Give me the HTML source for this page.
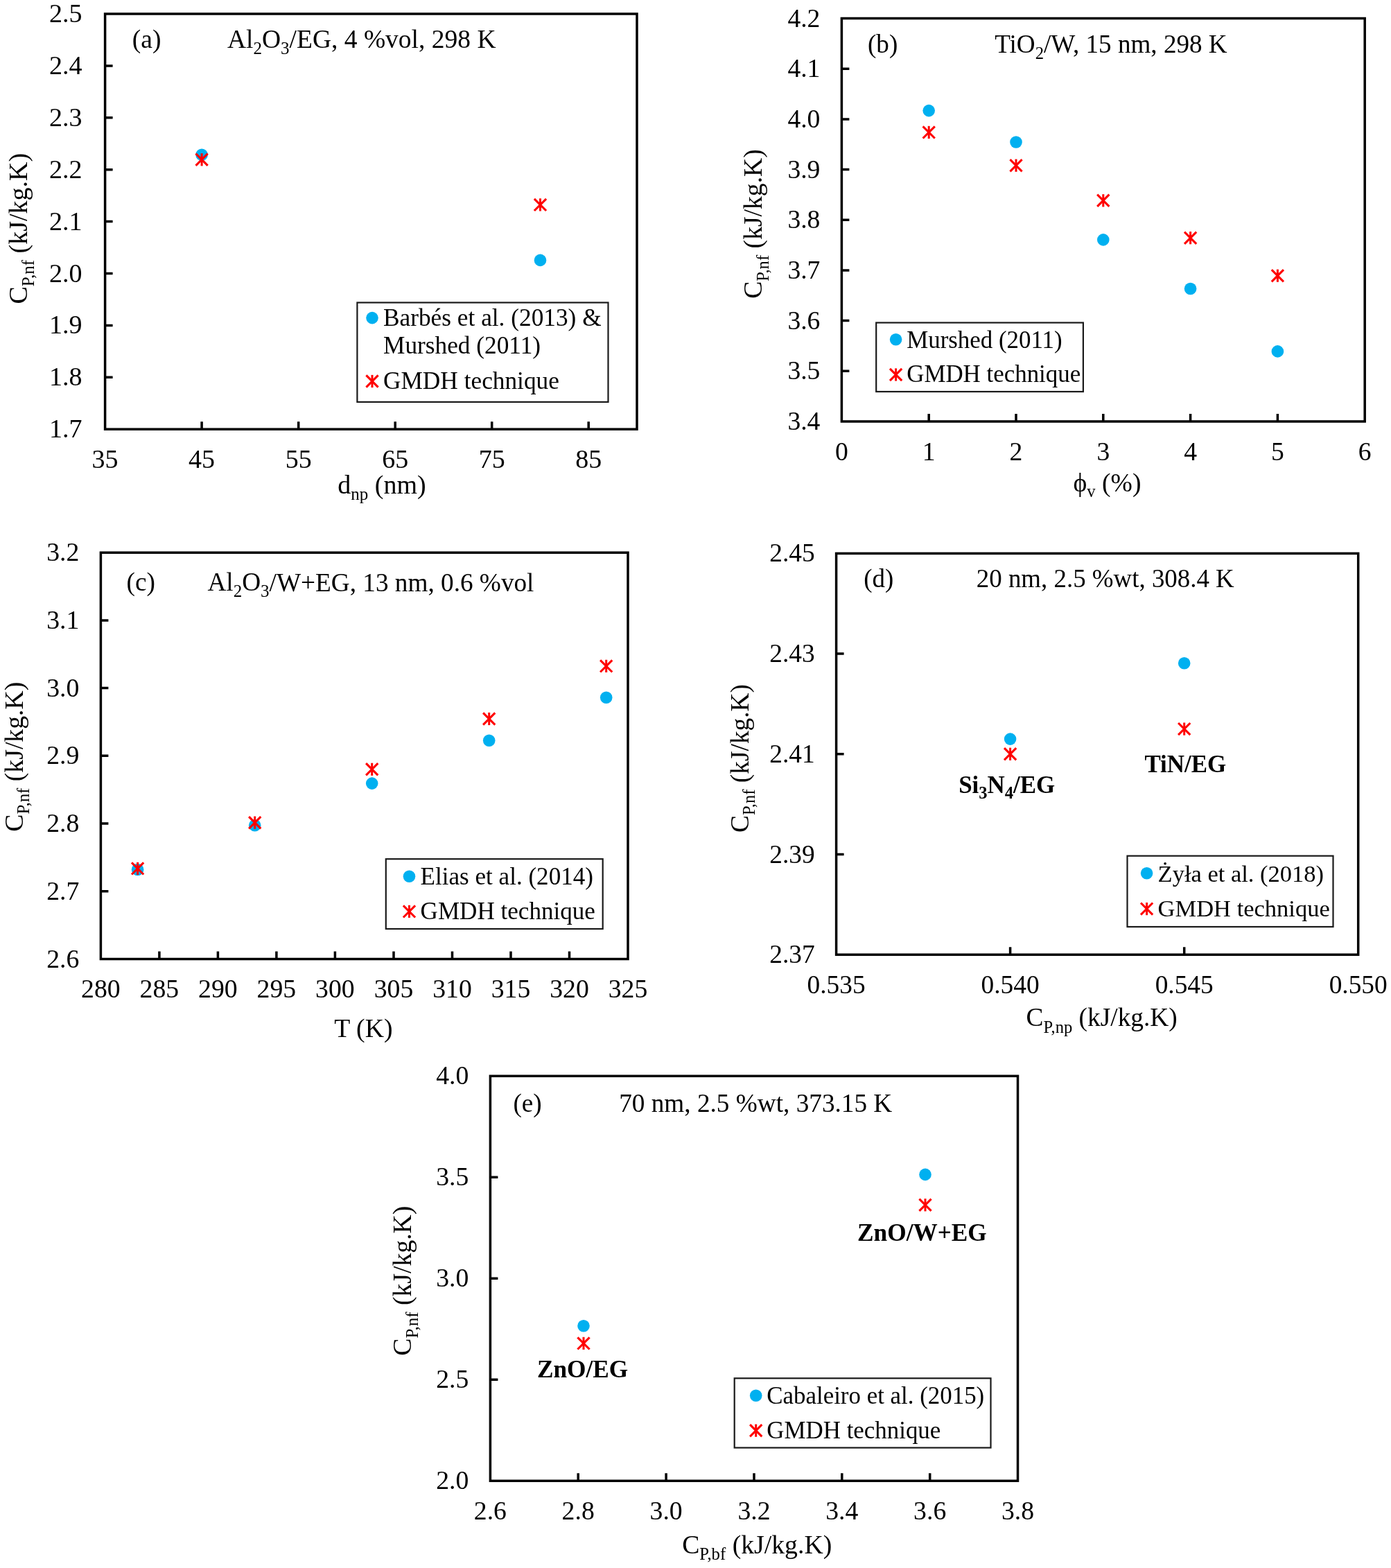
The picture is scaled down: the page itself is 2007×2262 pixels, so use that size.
<!DOCTYPE html>
<html><head><meta charset="utf-8"><title>Figure</title>
<style>html,body{margin:0;padding:0;background:#fff;overflow:hidden;}svg{display:block;}</style>
</head><body>
<svg width="2007" height="2262" viewBox="0 0 2007 2262" font-family="'Liberation Serif','Times New Roman',serif" fill="#000">
<rect width="2007" height="2262" fill="#fff"/>
<path d="M291.1 619.2V608.2M430.7 619.2V608.2M570.2 619.2V608.2M709.7 619.2V608.2M849.2 619.2V608.2M151.6 544.3H162.6M151.6 469.4H162.6M151.6 394.5H162.6M151.6 319.6H162.6M151.6 244.7H162.6M151.6 169.8H162.6M151.6 94.9H162.6" stroke="#000" stroke-width="3.5" fill="none"/>
<rect x="151.6" y="20.0" width="767.4" height="599.2" fill="none" stroke="#000" stroke-width="3.5"/>
<g font-size="38.00">
<text x="151.6" y="674.7" text-anchor="middle">35</text>
<text x="291.1" y="674.7" text-anchor="middle">45</text>
<text x="430.7" y="674.7" text-anchor="middle">55</text>
<text x="570.2" y="674.7" text-anchor="middle">65</text>
<text x="709.7" y="674.7" text-anchor="middle">75</text>
<text x="849.2" y="674.7" text-anchor="middle">85</text>
<text x="118.4" y="631.2" text-anchor="end">1.7</text>
<text x="118.4" y="556.3" text-anchor="end">1.8</text>
<text x="118.4" y="481.4" text-anchor="end">1.9</text>
<text x="118.4" y="406.5" text-anchor="end">2.0</text>
<text x="118.4" y="331.6" text-anchor="end">2.1</text>
<text x="118.4" y="256.7" text-anchor="end">2.2</text>
<text x="118.4" y="181.8" text-anchor="end">2.3</text>
<text x="118.4" y="106.9" text-anchor="end">2.4</text>
<text x="118.4" y="32.0" text-anchor="end">2.5</text>
</g>
<text transform="translate(39.2,329.7) rotate(-90)" text-anchor="middle" font-size="38.00">C<tspan font-size="25.00" dy="9.5">P,nf</tspan><tspan dy="-9.5"> (kJ/kg.K)</tspan></text>
<text x="551.0" y="711.7" font-size="38.00" text-anchor="middle">d<tspan font-size="25.00" dy="9.0">np</tspan><tspan dy="-9.0"> (nm)</tspan></text>
<text x="190.8" y="69.4" font-size="37.50" text-anchor="start">(a)</text>
<text x="328.0" y="69.4" font-size="37.50" text-anchor="start">Al<tspan font-size="25.00" dy="9.0">2</tspan><tspan dy="-9.0">O</tspan><tspan font-size="25.00" dy="9.0">3</tspan><tspan dy="-9.0">/EG, 4 %vol, 298 K</tspan></text>
<rect x="515.4" y="436.5" width="362.1" height="143.4" fill="#fff" stroke="#1a1a1a" stroke-width="2.2"/>
<circle cx="537.0" cy="458.6" r="8.8" fill="#00B0F0"/>
<text x="553.0" y="470.3" font-size="35.30">Barbés et al. (2013) &amp;</text>
<text x="553.0" y="510.4" font-size="35.30">Murshed (2011)</text>
<path d="M528.4 541.4L545.6 558.6M545.6 541.4L528.4 558.6" stroke="#FF0000" stroke-width="3.1" fill="none"/>
<path d="M537.0 540.9V559.1" stroke="#FF0000" stroke-width="3.0" fill="none"/>
<text x="553.0" y="560.7" font-size="35.30">GMDH technique</text>
<circle cx="291.1" cy="223.3" r="8.8" fill="#00B0F0"/>
<path d="M282.5 221.7L299.7 238.9M299.7 221.7L282.5 238.9" stroke="#FF0000" stroke-width="3.1" fill="none"/>
<path d="M291.1 221.2V239.4" stroke="#FF0000" stroke-width="3.0" fill="none"/>
<circle cx="779.5" cy="375.4" r="8.8" fill="#00B0F0"/>
<path d="M770.9 286.8L788.1 304.0M788.1 286.8L770.9 304.0" stroke="#FF0000" stroke-width="3.1" fill="none"/>
<path d="M779.5 286.3V304.5" stroke="#FF0000" stroke-width="3.0" fill="none"/>
<path d="M1340.2 608.0V597.0M1466.0 608.0V597.0M1591.8 608.0V597.0M1717.6 608.0V597.0M1843.4 608.0V597.0M1214.4 535.3H1225.4M1214.4 462.6H1225.4M1214.4 389.9H1225.4M1214.4 317.3H1225.4M1214.4 244.6H1225.4M1214.4 171.9H1225.4M1214.4 99.2H1225.4" stroke="#000" stroke-width="3.5" fill="none"/>
<rect x="1214.4" y="26.5" width="754.8" height="581.5" fill="none" stroke="#000" stroke-width="3.5"/>
<g font-size="37.62">
<text x="1214.4" y="663.5" text-anchor="middle">0</text>
<text x="1340.2" y="663.5" text-anchor="middle">1</text>
<text x="1466.0" y="663.5" text-anchor="middle">2</text>
<text x="1591.8" y="663.5" text-anchor="middle">3</text>
<text x="1717.6" y="663.5" text-anchor="middle">4</text>
<text x="1843.4" y="663.5" text-anchor="middle">5</text>
<text x="1969.2" y="663.5" text-anchor="middle">6</text>
<text x="1183.4" y="620.0" text-anchor="end">3.4</text>
<text x="1183.4" y="547.3" text-anchor="end">3.5</text>
<text x="1183.4" y="474.6" text-anchor="end">3.6</text>
<text x="1183.4" y="401.9" text-anchor="end">3.7</text>
<text x="1183.4" y="329.3" text-anchor="end">3.8</text>
<text x="1183.4" y="256.6" text-anchor="end">3.9</text>
<text x="1183.4" y="183.9" text-anchor="end">4.0</text>
<text x="1183.4" y="111.2" text-anchor="end">4.1</text>
<text x="1183.4" y="38.5" text-anchor="end">4.2</text>
</g>
<text transform="translate(1099.3,323.0) rotate(-90)" text-anchor="middle" font-size="37.62">C<tspan font-size="24.75" dy="9.4">P,nf</tspan><tspan dy="-9.4"> (kJ/kg.K)</tspan></text>
<text x="1597.5" y="708.5" font-size="37.62" text-anchor="middle">ϕ<tspan font-size="24.75" dy="8.9">v</tspan><tspan dy="-8.9"> (%)</tspan></text>
<text x="1252.0" y="75.9" font-size="37.12" text-anchor="start">(b)</text>
<text x="1435.2" y="75.9" font-size="37.12" text-anchor="start">TiO<tspan font-size="24.75" dy="8.9">2</tspan><tspan dy="-8.9">/W, 15 nm, 298 K</tspan></text>
<rect x="1264.2" y="465.5" width="298.7" height="99.5" fill="#fff" stroke="#1a1a1a" stroke-width="2.2"/>
<circle cx="1292.6" cy="489.8" r="8.8" fill="#00B0F0"/>
<text x="1308.2" y="501.8" font-size="34.90">Murshed (2011)</text>
<path d="M1284.0 531.9L1301.2 549.1M1301.2 531.9L1284.0 549.1" stroke="#FF0000" stroke-width="3.1" fill="none"/>
<path d="M1292.6 531.4V549.6" stroke="#FF0000" stroke-width="3.0" fill="none"/>
<text x="1308.2" y="551.0" font-size="34.90">GMDH technique</text>
<circle cx="1340.2" cy="159.6" r="8.8" fill="#00B0F0"/>
<path d="M1331.6 182.3L1348.8 199.5M1348.8 182.3L1331.6 199.5" stroke="#FF0000" stroke-width="3.1" fill="none"/>
<path d="M1340.2 181.8V200.0" stroke="#FF0000" stroke-width="3.0" fill="none"/>
<circle cx="1466.0" cy="205.0" r="8.8" fill="#00B0F0"/>
<path d="M1457.4 230.1L1474.6 247.3M1474.6 230.1L1457.4 247.3" stroke="#FF0000" stroke-width="3.1" fill="none"/>
<path d="M1466.0 229.6V247.8" stroke="#FF0000" stroke-width="3.0" fill="none"/>
<circle cx="1591.8" cy="345.9" r="8.8" fill="#00B0F0"/>
<path d="M1583.2 280.7L1600.4 297.9M1600.4 280.7L1583.2 297.9" stroke="#FF0000" stroke-width="3.1" fill="none"/>
<path d="M1591.8 280.2V298.4" stroke="#FF0000" stroke-width="3.0" fill="none"/>
<circle cx="1717.6" cy="416.5" r="8.8" fill="#00B0F0"/>
<path d="M1709.0 334.6L1726.2 351.8M1726.2 334.6L1709.0 351.8" stroke="#FF0000" stroke-width="3.1" fill="none"/>
<path d="M1717.6 334.1V352.3" stroke="#FF0000" stroke-width="3.0" fill="none"/>
<circle cx="1843.4" cy="506.9" r="8.8" fill="#00B0F0"/>
<path d="M1834.8 389.1L1852.0 406.3M1852.0 389.1L1834.8 406.3" stroke="#FF0000" stroke-width="3.1" fill="none"/>
<path d="M1843.4 388.6V406.8" stroke="#FF0000" stroke-width="3.0" fill="none"/>
<path d="M229.9 1383.5V1372.5M314.4 1383.5V1372.5M398.9 1383.5V1372.5M483.4 1383.5V1372.5M568.0 1383.5V1372.5M652.5 1383.5V1372.5M737.0 1383.5V1372.5M821.5 1383.5V1372.5M145.4 1285.8H156.4M145.4 1188.1H156.4M145.4 1090.3H156.4M145.4 992.6H156.4M145.4 894.9H156.4" stroke="#000" stroke-width="3.5" fill="none"/>
<rect x="145.4" y="797.2" width="760.6" height="586.3" fill="none" stroke="#000" stroke-width="3.5"/>
<g font-size="37.73">
<text x="145.4" y="1439.0" text-anchor="middle">280</text>
<text x="229.9" y="1439.0" text-anchor="middle">285</text>
<text x="314.4" y="1439.0" text-anchor="middle">290</text>
<text x="398.9" y="1439.0" text-anchor="middle">295</text>
<text x="483.4" y="1439.0" text-anchor="middle">300</text>
<text x="568.0" y="1439.0" text-anchor="middle">305</text>
<text x="652.5" y="1439.0" text-anchor="middle">310</text>
<text x="737.0" y="1439.0" text-anchor="middle">315</text>
<text x="821.5" y="1439.0" text-anchor="middle">320</text>
<text x="906.0" y="1439.0" text-anchor="middle">325</text>
<text x="114.4" y="1395.5" text-anchor="end">2.6</text>
<text x="114.4" y="1297.8" text-anchor="end">2.7</text>
<text x="114.4" y="1200.1" text-anchor="end">2.8</text>
<text x="114.4" y="1102.3" text-anchor="end">2.9</text>
<text x="114.4" y="1004.6" text-anchor="end">3.0</text>
<text x="114.4" y="906.9" text-anchor="end">3.1</text>
<text x="114.4" y="809.2" text-anchor="end">3.2</text>
</g>
<text transform="translate(32.9,1091.7) rotate(-90)" text-anchor="middle" font-size="37.73">C<tspan font-size="24.82" dy="9.4">P,nf</tspan><tspan dy="-9.4"> (kJ/kg.K)</tspan></text>
<text x="524.4" y="1495.7" font-size="37.73" text-anchor="middle">T (K)</text>
<text x="182.6" y="852.4" font-size="37.24" text-anchor="start">(c)</text>
<text x="299.4" y="852.4" font-size="37.24" text-anchor="start">Al<tspan font-size="25.00" dy="9.0">2</tspan><tspan dy="-9.0">O</tspan><tspan font-size="25.00" dy="9.0">3</tspan><tspan dy="-8.9">/W+EG, 13 nm, 0.6 %vol</tspan></text>
<rect x="556.8" y="1239.2" width="312.9" height="100.8" fill="#fff" stroke="#1a1a1a" stroke-width="2.2"/>
<circle cx="590.5" cy="1264.2" r="8.8" fill="#00B0F0"/>
<text x="606.6" y="1275.6" font-size="35.10">Elias et al. (2014)</text>
<path d="M581.9 1306.3L599.1 1323.5M599.1 1306.3L581.9 1323.5" stroke="#FF0000" stroke-width="3.1" fill="none"/>
<path d="M590.5 1305.8V1324.0" stroke="#FF0000" stroke-width="3.0" fill="none"/>
<text x="606.6" y="1326.0" font-size="35.10">GMDH technique</text>
<circle cx="198.6" cy="1254.5" r="8.8" fill="#00B0F0"/>
<path d="M190.0 1244.3L207.2 1261.5M207.2 1244.3L190.0 1261.5" stroke="#FF0000" stroke-width="3.1" fill="none"/>
<path d="M198.6 1243.8V1262.0" stroke="#FF0000" stroke-width="3.0" fill="none"/>
<circle cx="367.7" cy="1190.8" r="8.8" fill="#00B0F0"/>
<path d="M359.1 1178.1L376.3 1195.3M376.3 1178.1L359.1 1195.3" stroke="#FF0000" stroke-width="3.1" fill="none"/>
<path d="M367.7 1177.6V1195.8" stroke="#FF0000" stroke-width="3.0" fill="none"/>
<circle cx="536.7" cy="1130.1" r="8.8" fill="#00B0F0"/>
<path d="M528.1 1101.2L545.3 1118.4M545.3 1101.2L528.1 1118.4" stroke="#FF0000" stroke-width="3.1" fill="none"/>
<path d="M536.7 1100.7V1118.9" stroke="#FF0000" stroke-width="3.0" fill="none"/>
<circle cx="705.7" cy="1068.3" r="8.8" fill="#00B0F0"/>
<path d="M697.1 1028.4L714.3 1045.6M714.3 1028.4L697.1 1045.6" stroke="#FF0000" stroke-width="3.1" fill="none"/>
<path d="M705.7 1027.9V1046.1" stroke="#FF0000" stroke-width="3.0" fill="none"/>
<circle cx="874.7" cy="1006.2" r="8.8" fill="#00B0F0"/>
<path d="M866.1 952.3L883.3 969.5M883.3 952.3L866.1 969.5" stroke="#FF0000" stroke-width="3.1" fill="none"/>
<path d="M874.7 951.8V970.0" stroke="#FF0000" stroke-width="3.0" fill="none"/>
<path d="M1457.6 1377.2V1366.2M1708.7 1377.2V1366.2M1206.6 1232.5H1217.6M1206.6 1087.8H1217.6M1206.6 943.1H1217.6" stroke="#000" stroke-width="3.5" fill="none"/>
<rect x="1206.6" y="798.4" width="753.1" height="578.8" fill="none" stroke="#000" stroke-width="3.5"/>
<g font-size="37.39">
<text x="1206.6" y="1432.7" text-anchor="middle">0.535</text>
<text x="1457.6" y="1432.7" text-anchor="middle">0.540</text>
<text x="1708.7" y="1432.7" text-anchor="middle">0.545</text>
<text x="1959.7" y="1432.7" text-anchor="middle">0.550</text>
<text x="1175.6" y="1389.2" text-anchor="end">2.37</text>
<text x="1175.6" y="1244.5" text-anchor="end">2.39</text>
<text x="1175.6" y="1099.8" text-anchor="end">2.41</text>
<text x="1175.6" y="955.1" text-anchor="end">2.43</text>
<text x="1175.6" y="810.4" text-anchor="end">2.45</text>
</g>
<text transform="translate(1080.1,1094.0) rotate(-90)" text-anchor="middle" font-size="37.39">C<tspan font-size="24.60" dy="9.3">P,nf</tspan><tspan dy="-9.3"> (kJ/kg.K)</tspan></text>
<text x="1589.7" y="1480.3" font-size="37.39" text-anchor="middle">C<tspan font-size="24.60" dy="9.2">P,np</tspan><tspan dy="-9.2"> (kJ/kg.K)</tspan></text>
<text x="1246.2" y="847.0" font-size="36.90" text-anchor="start">(d)</text>
<text x="1408.8" y="847.0" font-size="36.90" text-anchor="start">20 nm, 2.5 %wt, 308.4 K</text>
<rect x="1626.5" y="1234.7" width="297.0" height="102.3" fill="#fff" stroke="#1a1a1a" stroke-width="2.2"/>
<circle cx="1654.6" cy="1259.8" r="8.8" fill="#00B0F0"/>
<text x="1670.6" y="1271.5" font-size="34.50">Żyła et al. (2018)</text>
<path d="M1646.0 1302.5L1663.2 1319.7M1663.2 1302.5L1646.0 1319.7" stroke="#FF0000" stroke-width="3.1" fill="none"/>
<path d="M1654.6 1302.0V1320.2" stroke="#FF0000" stroke-width="3.0" fill="none"/>
<text x="1670.6" y="1321.9" font-size="34.50">GMDH technique</text>
<circle cx="1457.6" cy="1066.1" r="8.8" fill="#00B0F0"/>
<path d="M1449.0 1079.2L1466.2 1096.4M1466.2 1079.2L1449.0 1096.4" stroke="#FF0000" stroke-width="3.1" fill="none"/>
<path d="M1457.6 1078.7V1096.9" stroke="#FF0000" stroke-width="3.0" fill="none"/>
<circle cx="1708.7" cy="956.8" r="8.8" fill="#00B0F0"/>
<path d="M1700.1 1043.0L1717.3 1060.2M1717.3 1043.0L1700.1 1060.2" stroke="#FF0000" stroke-width="3.1" fill="none"/>
<path d="M1708.7 1042.5V1060.7" stroke="#FF0000" stroke-width="3.0" fill="none"/>
<text x="1452.7" y="1143.6" font-size="34.93" text-anchor="middle" font-weight="bold">Si<tspan font-size="24.60" dy="7.9">3</tspan><tspan dy="-7.9">N</tspan><tspan font-size="24.60" dy="7.9">4</tspan><tspan dy="-7.9">/EG</tspan></text>
<text x="1710.3" y="1113.5" font-size="34.93" text-anchor="middle" font-weight="bold">TiN/EG</text>
<path d="M834.2 2136.3V2125.3M961.1 2136.3V2125.3M1088.0 2136.3V2125.3M1214.8 2136.3V2125.3M1341.7 2136.3V2125.3M707.4 1990.3H718.4M707.4 1844.3H718.4M707.4 1698.3H718.4" stroke="#000" stroke-width="3.5" fill="none"/>
<rect x="707.4" y="1552.3" width="761.1" height="584.0" fill="none" stroke="#000" stroke-width="3.5"/>
<g font-size="37.73">
<text x="707.4" y="2191.8" text-anchor="middle">2.6</text>
<text x="834.2" y="2191.8" text-anchor="middle">2.8</text>
<text x="961.1" y="2191.8" text-anchor="middle">3.0</text>
<text x="1088.0" y="2191.8" text-anchor="middle">3.2</text>
<text x="1214.8" y="2191.8" text-anchor="middle">3.4</text>
<text x="1341.7" y="2191.8" text-anchor="middle">3.6</text>
<text x="1468.5" y="2191.8" text-anchor="middle">3.8</text>
<text x="676.4" y="2148.3" text-anchor="end">2.0</text>
<text x="676.4" y="2002.3" text-anchor="end">2.5</text>
<text x="676.4" y="1856.3" text-anchor="end">3.0</text>
<text x="676.4" y="1710.3" text-anchor="end">3.5</text>
<text x="676.4" y="1564.3" text-anchor="end">4.0</text>
</g>
<text transform="translate(593.3,1847.6) rotate(-90)" text-anchor="middle" font-size="37.73">C<tspan font-size="24.82" dy="9.4">P,nf</tspan><tspan dy="-9.4"> (kJ/kg.K)</tspan></text>
<text x="1092.2" y="2240.9" font-size="37.73" text-anchor="middle">C<tspan font-size="24.82" dy="9.3">P,bf</tspan><tspan dy="-9.3"> (kJ/kg.K)</tspan></text>
<text x="740.4" y="1604.3" font-size="37.24" text-anchor="start">(e)</text>
<text x="893.2" y="1604.3" font-size="37.24" text-anchor="start">70 nm, 2.5 %wt, 373.15 K</text>
<rect x="1059.7" y="1988.3" width="369.8" height="100.2" fill="#fff" stroke="#1a1a1a" stroke-width="2.2"/>
<circle cx="1090.7" cy="2013.3" r="8.8" fill="#00B0F0"/>
<text x="1106.3" y="2024.9" font-size="34.90">Cabaleiro et al. (2015)</text>
<path d="M1082.1 2055.1L1099.3 2072.3M1099.3 2055.1L1082.1 2072.3" stroke="#FF0000" stroke-width="3.1" fill="none"/>
<path d="M1090.7 2054.6V2072.8" stroke="#FF0000" stroke-width="3.0" fill="none"/>
<text x="1106.3" y="2075.0" font-size="34.90">GMDH technique</text>
<circle cx="842.0" cy="1912.7" r="8.8" fill="#00B0F0"/>
<path d="M833.4 1929.3L850.6 1946.5M850.6 1929.3L833.4 1946.5" stroke="#FF0000" stroke-width="3.1" fill="none"/>
<path d="M842.0 1928.8V1947.0" stroke="#FF0000" stroke-width="3.0" fill="none"/>
<circle cx="1335.0" cy="1694.4" r="8.8" fill="#00B0F0"/>
<path d="M1326.4 1729.7L1343.6 1746.9M1343.6 1729.7L1326.4 1746.9" stroke="#FF0000" stroke-width="3.1" fill="none"/>
<path d="M1335.0 1729.2V1747.4" stroke="#FF0000" stroke-width="3.0" fill="none"/>
<text x="840.6" y="1987.1" font-size="35.25" text-anchor="middle" font-weight="bold">ZnO/EG</text>
<text x="1330.4" y="1789.5" font-size="35.25" text-anchor="middle" font-weight="bold">ZnO/W+EG</text>
</svg>
</body></html>
